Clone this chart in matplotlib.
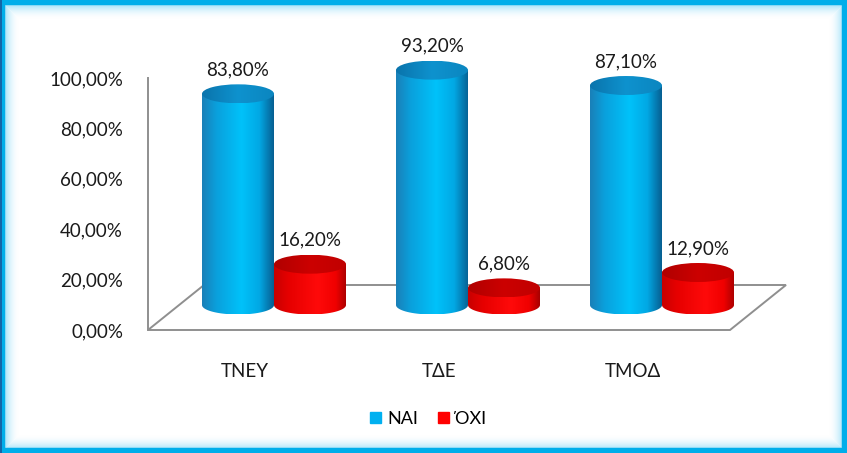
import numpy as np
import matplotlib
matplotlib.use("Agg")
import matplotlib.pyplot as plt
from matplotlib.patches import Polygon, Ellipse, Rectangle, Patch
from matplotlib.colors import LinearSegmentedColormap

plt.rcParams['font.family'] = ['Lato', 'Open Sans', 'DejaVu Sans']

# data
categories = ['ΤΝΕΥ', 'ΤΔΕ', 'ΤΜΟΔ']
series_names = ['ΝΑΙ', 'ΌΧΙ']
nai = [83.8, 93.2, 87.1]
oxi = [16.2, 6.8, 12.9]
yticks = [0, 20, 40, 60, 80, 100]

W, H = 847, 453
fig = plt.figure(figsize=(W / 100, H / 100), dpi=100)
fig.patch.set_facecolor('white')

# plot area (front plane of the 3d floor)
ax = fig.add_axes([148 / W, 123 / H, 582 / W, 252 / H])
ax.set_xlim(-0.5, 2.5)
ax.set_ylim(0, 100)

px_x = 582 / 3.0      # pixels per category unit
px_y = 252 / 100.0    # pixels per percent
depth_dx = 56 / px_x
depth_dy = 45 / px_y
cyl_dx = 29 / px_x
cyl_dy = 25 / px_y
rx = 36 / px_x
ry = 9.5 / px_y

# floor
floor = Polygon([(-0.5, 0), (2.5, 0), (2.5 + depth_dx, depth_dy), (-0.5 + depth_dx, depth_dy)],
                closed=True, facecolor='white', edgecolor='#8f8f8f', lw=1.4,
                clip_on=False, zorder=1)
ax.add_patch(floor)

blue_body = LinearSegmentedColormap.from_list('bb', [(0, '#1a80b8'), (0.2, '#0aa0dc'),
                                                     (0.55, '#00c2fa'), (0.8, '#02a8e4'),
                                                     (1, '#075f92')])
blue_top = LinearSegmentedColormap.from_list('bt', ['#0a74ac', '#0e92ce', '#0b86c0'])
red_body = LinearSegmentedColormap.from_list('rb', [(0, '#c80000'), (0.2, '#e60000'),
                                                    (0.6, '#ff0a0a'), (0.85, '#f00000'),
                                                    (1, '#a80000')])
red_top = LinearSegmentedColormap.from_list('rt', ['#b00000', '#cc0000', '#c00000'])

grad = np.linspace(0, 1, 200).reshape(1, -1)
z = 2


def cylinder(xc, value, body_cmap, top_cmap, z):
    base = cyl_dy
    top = cyl_dy + value
    t = np.linspace(0, -np.pi, 60)
    pts = [(xc - rx, top), (xc + rx, top)]
    pts += list(zip(xc + rx * np.cos(t), base + ry * np.sin(t)))
    body = Polygon(pts, closed=True, transform=ax.transData)
    im = ax.imshow(grad, cmap=body_cmap, extent=[xc - rx, xc + rx, base - ry, top],
                   aspect='auto', zorder=z, interpolation='bilinear')
    im.set_clip_path(body)
    im.set_clip_box(fig.bbox)
    cap = Ellipse((xc, top), 2 * rx, 2 * ry, transform=ax.transData)
    im2 = ax.imshow(grad, cmap=top_cmap, extent=[xc - rx, xc + rx, top - ry, top + ry],
                    aspect='auto', zorder=z + 0.5, interpolation='bilinear')
    im2.set_clip_path(cap)
    im2.set_clip_box(fig.bbox)
    ax.text(xc, top + 9.5, ('%.2f%%' % value).replace('.', ','), ha='center', va='center',
            fontsize=13.5, color='#1a1a1a', zorder=20)


for i in range(len(categories)):
    cylinder(i + cyl_dx - rx, nai[i], blue_body, blue_top, z)
    z += 1
    cylinder(i + cyl_dx + rx, oxi[i], red_body, red_top, z)
    z += 1

ax.set_xlim(-0.5, 2.5)
ax.set_ylim(0, 100)

for s in ['top', 'right', 'bottom']:
    ax.spines[s].set_visible(False)
ax.spines['left'].set_color('#8f8f8f')
ax.spines['left'].set_linewidth(1.4)
ax.patch.set_visible(False)

ax.set_yticks(yticks)
ax.set_yticklabels([('%.2f%%' % v).replace('.', ',') for v in yticks])
ax.set_xticks(range(len(categories)))
ax.set_xticklabels(categories)
ax.tick_params(axis='y', length=0, pad=18, labelsize=13.5, labelcolor='#1a1a1a')
ax.tick_params(axis='x', length=0, pad=24, labelsize=13.5, labelcolor='#1a1a1a')

fig.legend(handles=[Patch(color='#00b0f0'), Patch(color='#ff0000')], labels=series_names,
           loc='center', bbox_to_anchor=(428 / W, 1 - 419 / H), ncol=2, frameon=False,
           handlelength=0.6, handleheight=0.6, handletextpad=0.35, columnspacing=1.1,
           fontsize=13)

# blue frame with inner glow
for k in range(14):
    inset = 5 + k
    a = 0.4 * (1 - k / 14) ** 2
    fig.add_artist(Rectangle((inset / W, inset / H), 1 - 2 * inset / W, 1 - 2 * inset / H,
                             transform=fig.transFigure, fill=False, ec='#33bff2',
                             lw=0.72, alpha=a))
fig.add_artist(Rectangle((0, 0), 1, 1, transform=fig.transFigure, fill=False,
                         ec='#00aeea', lw=7.5))
fig.add_artist(Rectangle((0, 0), 2 / W, 1, transform=fig.transFigure, fc='#1266a8', ec='none'))

fig.savefig('out.png', dpi=100)
